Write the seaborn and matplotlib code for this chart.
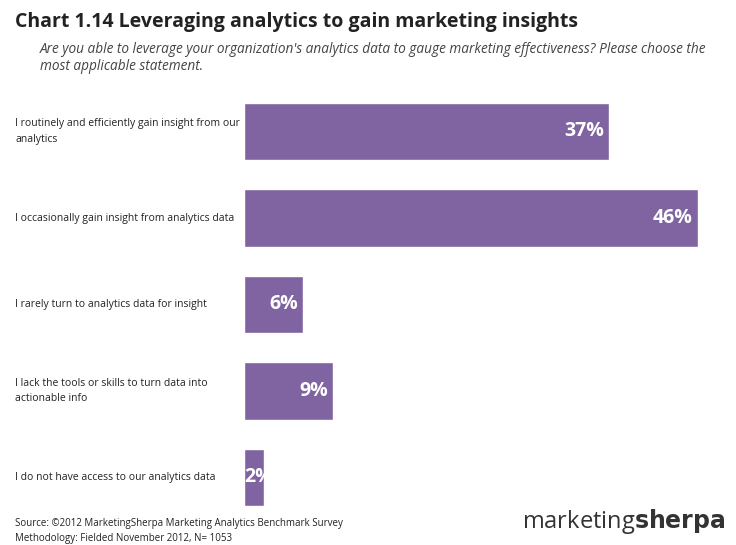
import matplotlib
matplotlib.use("Agg")
import matplotlib.pyplot as plt
import seaborn as sns
import pandas as pd

categories = [
    "I routinely and efficiently gain insight from our\nanalytics",
    "I occasionally gain insight from analytics data",
    "I rarely turn to analytics data for insight",
    "I lack the tools or skills to turn data into\nactionable info",
    "I do not have access to our analytics data",
]
values = [37, 46, 6, 9, 2]
df = pd.DataFrame({"cat": categories, "val": values})

sns.set_style("white")
plt.rcParams["font.family"] = ["Open Sans", "DejaVu Sans"]

fig = plt.figure(figsize=(7.36, 5.45), dpi=100)
ax = fig.add_axes([0.3315, 0.0445, 0.6685, 0.7936])
sns.barplot(data=df, x="val", y="cat", color="#8064A2", saturation=1, width=0.67, ax=ax)
ax.set_xlim(0, 49.9)
ax.set_ylim(4.5, -0.5)
ax.set_xlabel("")
ax.set_ylabel("")
ax.set_xticks([])
ax.set_yticks([])
sns.despine(ax=ax, left=True, bottom=True)

for i, (c, v) in enumerate(zip(categories, values)):
    ax.text(max(v - 0.5, 2.9), i, f"{v}%", ha="right", va="center",
            color="white", fontsize=14, fontweight="bold")
    fig.text(15 / 736, 1 - (131.5 + 86.5 * i) / 545, c, ha="left", va="center",
             fontsize=7.5, color="#222222", linespacing=1.6)

fig.text(15 / 736, 1 - 22 / 545, "Chart 1.14 Leveraging analytics to gain marketing insights",
         fontsize=14, fontweight="bold", va="center", color="#222222")
fig.text(40 / 736, 1 - 58 / 545,
         "Are you able to leverage your organization's analytics data to gauge marketing effectiveness? Please choose the\nmost applicable statement.",
         fontsize=9.8, style="italic", va="center", color="#444444", linespacing=1.2)
fig.text(15 / 736, 1 - 531 / 545,
         "Source: ©2012 MarketingSherpa Marketing Analytics Benchmark Survey\nMethodology: Fielded November 2012, N= 1053",
         fontsize=7, va="center", color="#222222", linespacing=1.4)
fig.text(726 / 736, 1 - 522 / 545, r"marketing$\mathbf{sherpa}$", fontsize=17,
         ha="right", va="center", color="#333333")

fig.savefig("out.png", dpi=100)
